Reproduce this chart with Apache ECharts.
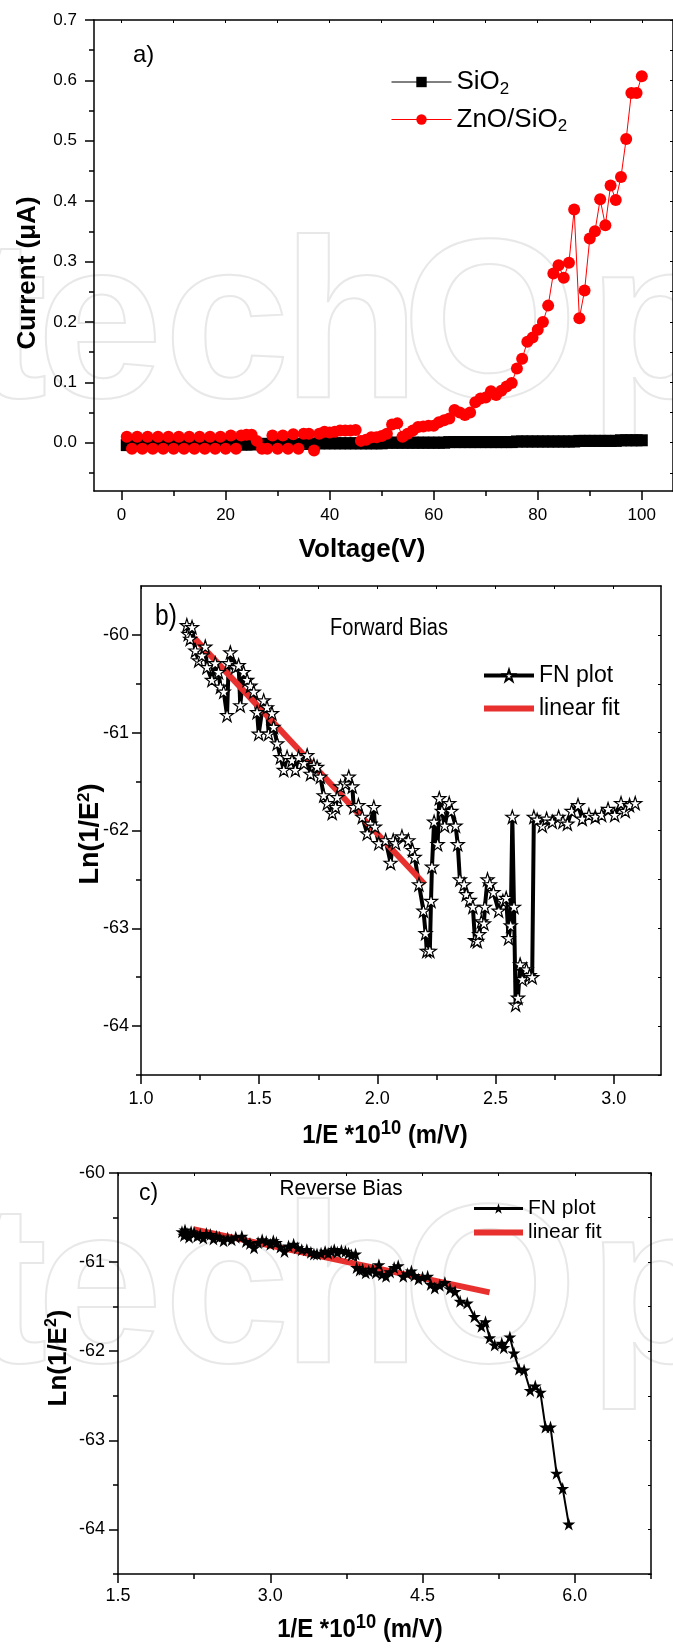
<!DOCTYPE html>
<html><head><meta charset="utf-8">
<script src="https://cdn.jsdelivr.net/npm/echarts@6/dist/echarts.min.js"></script>
<style>html,body{margin:0;padding:0;background:#fff}#c{width:673px;height:1651px}</style>
</head><body><div id="c"></div>
<script>
// ---------- Panel a data ----------
const voltage = [1,2,3,4,5,6,7,8,9,10,11,12,13,14,15,16,17,18,19,20,21,22,23,24,25,26,27,28,29,30,31,32,33,34,35,36,37,38,39,40,41,42,43,44,45,46,47,48,49,50,51,52,53,54,55,56,57,58,59,60,61,62,63,64,65,66,67,68,69,70,71,72,73,74,75,76,77,78,79,80,81,82,83,84,85,86,87,88,89,90,91,92,93,94,95,96,97,98,99,100];
const currentSiO2 = [-0.004,-0.004,-0.004,-0.004,-0.004,-0.004,-0.004,-0.004,-0.004,-0.004,-0.004,-0.004,-0.003,-0.003,-0.003,-0.003,-0.003,-0.003,-0.003,-0.003,-0.003,-0.003,-0.003,-0.003,-0.003,-0.002,-0.002,-0.002,-0.002,-0.002,-0.002,-0.002,-0.002,-0.002,-0.002,-0.002,-0.002,-0.001,-0.001,-0.001,-0.001,-0.001,-0.001,-0.001,-0.001,-0.001,-0.001,-0.001,-0.001,-0.001,0,0,0,0,0,0,0,0,0,0,0,0,0.001,0.001,0.001,0.001,0.001,0.001,0.001,0.001,0.001,0.001,0.001,0.001,0.001,0.002,0.002,0.002,0.002,0.002,0.002,0.002,0.002,0.002,0.002,0.002,0.002,0.003,0.003,0.003,0.003,0.003,0.003,0.003,0.003,0.004,0.004,0.004,0.004,0.004];
const currentZnO = [0.01,-0.01,0.01,-0.01,0.01,-0.01,0.01,-0.01,0.01,-0.01,0.01,-0.01,0.01,-0.01,0.01,-0.01,0.01,-0.01,0.01,-0.01,0.012,-0.01,0.012,0.013,0.013,0.003,-0.01,-0.01,0.012,-0.01,0.012,-0.01,0.014,-0.01,0.015,0.015,-0.013,0.015,0.018,0.017,0.018,0.02,0.02,0.02,0.021,0.003,0.005,0.009,0.009,0.011,0.015,0.03,0.032,0.01,0.015,0.02,0.026,0.027,0.028,0.028,0.034,0.037,0.04,0.054,0.05,0.046,0.05,0.067,0.073,0.075,0.085,0.079,0.086,0.093,0.099,0.123,0.139,0.167,0.174,0.187,0.2,0.227,0.28,0.294,0.273,0.298,0.386,0.206,0.252,0.338,0.35,0.403,0.36,0.426,0.402,0.44,0.503,0.579,0.579,0.607];
const ticksA_x = [0,20,40,60,80,100];
const minorA_x = [10,30,50,70,90];
const ticksA_y = [0,0.1,0.2,0.3,0.4,0.5,0.6,0.7];
const minorA_y = [-0.05,0.05,0.15,0.25,0.35,0.45,0.55,0.65];

// ---------- Panel b data (forward bias) ----------
const fnbX = [1.194,1.200,1.208,1.216,1.230,1.244,1.258,1.272,1.279,1.300,1.314,1.328,1.336,1.350,1.364,1.371,1.378,1.400,1.413,1.420,1.434,1.449,1.463,1.477,1.491,1.498,1.519,1.533,1.540,1.554,1.561,1.576,1.590,1.604,1.618,1.639,1.653,1.667,1.689,1.703,1.717,1.731,1.745,1.759,1.773,1.788,1.809,1.823,1.830,1.844,1.865,1.879,1.894,1.900,1.920,1.936,1.957,1.971,1.985,1.990,2.006,2.035,2.056,2.067,2.077,2.104,2.131,2.149,2.158,2.176,2.195,2.204,2.209,2.222,2.227,2.231,2.240,2.255,2.262,2.273,2.285,2.304,2.313,2.331,2.340,2.349,2.367,2.376,2.391,2.404,2.413,2.423,2.431,2.440,2.451,2.455,2.466,2.476,2.491,2.513,2.531,2.545,2.555,2.564,2.571,2.578,2.585,2.595,2.604,2.613,2.631,2.644,2.655,2.662,2.676,2.698,2.716,2.740,2.767,2.785,2.804,2.822,2.849,2.867,2.895,2.922,2.949,2.976,3.004,3.031,3.049,3.067,3.091];
const fnbY = [-59.90,-59.99,-60.04,-59.92,-60.16,-60.26,-60.21,-60.12,-60.33,-60.46,-60.29,-60.38,-60.53,-60.58,-60.82,-60.29,-60.18,-60.33,-60.31,-60.72,-60.38,-60.46,-60.52,-60.58,-60.79,-61.01,-60.67,-60.74,-61.01,-60.80,-60.94,-61.11,-61.25,-61.38,-61.25,-61.28,-61.38,-61.25,-61.31,-61.23,-61.42,-61.33,-61.35,-61.45,-61.64,-61.72,-61.82,-61.76,-61.66,-61.55,-61.52,-61.45,-61.55,-61.76,-61.74,-61.86,-62.03,-61.93,-61.76,-61.96,-62.13,-62.10,-62.33,-62.10,-62.13,-62.06,-62.10,-62.20,-62.27,-62.55,-62.82,-63.05,-63.23,-63.23,-62.72,-62.37,-61.91,-62.14,-61.67,-61.80,-61.95,-61.72,-61.80,-61.95,-62.14,-62.50,-62.55,-62.65,-62.71,-62.78,-63.12,-63.13,-63.06,-62.93,-62.95,-62.78,-62.50,-62.55,-62.63,-62.82,-62.72,-62.69,-63.10,-62.97,-61.86,-62.78,-63.78,-63.71,-63.37,-63.52,-63.42,-63.48,-63.50,-61.86,-61.89,-61.95,-61.88,-61.91,-61.86,-61.91,-61.93,-61.80,-61.74,-61.88,-61.84,-61.86,-61.84,-61.78,-61.84,-61.72,-61.80,-61.74,-61.72];
const fitbX = [1.225, 2.20];
const fitbY = [-60.03, -62.55];
const ticksB_x = [1.0,1.5,2.0,2.5,3.0];
const minorB_x = [1.25,1.75,2.25,2.75];
const ticksB_y = [-64,-63,-62,-61,-60];
const minorB_y = [-64.5,-63.5,-62.5,-61.5,-60.5];

// ---------- Panel c data (reverse bias) ----------
const fncX = [2.13,2.15,2.16,2.18,2.20,2.22,2.25,2.28,2.31,2.34,2.37,2.41,2.44,2.47,2.50,2.54,2.58,2.62,2.66,2.72,2.76,2.80,2.84,2.88,2.92,2.96,3.00,3.03,3.06,3.10,3.14,3.18,3.23,3.27,3.31,3.36,3.40,3.43,3.46,3.50,3.54,3.57,3.60,3.63,3.66,3.70,3.74,3.77,3.80,3.84,3.85,3.88,3.91,3.94,3.97,4.01,4.04,4.07,4.10,4.14,4.18,4.22,4.26,4.31,4.35,4.39,4.42,4.46,4.50,4.55,4.58,4.62,4.67,4.72,4.77,4.82,4.87,4.94,5.01,5.08,5.12,5.16,5.21,5.28,5.30,5.36,5.40,5.45,5.50,5.56,5.61,5.66,5.71,5.76,5.82,5.88,5.94];
const fncY = [-60.66,-60.70,-60.64,-60.68,-60.72,-60.66,-60.67,-60.71,-60.69,-60.73,-60.68,-60.69,-60.74,-60.71,-60.72,-60.76,-60.73,-60.75,-60.72,-60.71,-60.77,-60.79,-60.84,-60.78,-60.75,-60.77,-60.80,-60.76,-60.78,-60.83,-60.88,-60.82,-60.80,-60.84,-60.86,-60.86,-60.89,-60.91,-60.91,-60.90,-60.88,-60.90,-60.88,-60.86,-60.89,-60.87,-60.88,-60.90,-60.92,-60.91,-61.06,-61.09,-61.08,-61.12,-61.10,-61.08,-61.12,-61.03,-61.14,-61.16,-61.11,-61.06,-61.04,-61.16,-61.13,-61.10,-61.15,-61.19,-61.17,-61.16,-61.25,-61.29,-61.26,-61.23,-61.30,-61.33,-61.44,-61.46,-61.61,-61.72,-61.67,-61.85,-61.93,-61.91,-61.96,-61.84,-62.02,-62.20,-62.21,-62.44,-62.39,-62.46,-62.85,-62.85,-63.37,-63.54,-63.94];
const fitcX = [2.24, 5.16];
const fitcY = [-60.63, -61.34];
const ticksC_x = [1.5,3.0,4.5,6.0];
const minorC_x = [2.25,3.75,5.25,6.75];
const ticksC_y = [-64,-63,-62,-61,-60];
const minorC_y = [-64.5,-63.5,-62.5,-61.5,-60.5];

// ---------- helpers ----------
const SANS = "'Liberation Sans', Arial, sans-serif";
const STAR = 'path://M50,0 L61.2,34.5 L97.6,34.5 L68.2,55.9 L79.4,90.5 L50,69.1 L20.6,90.5 L31.8,55.9 L2.4,34.5 L38.8,34.5 Z';
const pairs = (xs, ys) => xs.map((x, i) => [x, ys[i]]);
const ax = () => ({color: '#000', width: 1.5});

function xAxes(grid, min, max, majors, minors, fmt, size, margin) {
  return [
    {gridIndex: grid, type: 'value', min, max, position: 'bottom',
     axisLine: {show: true, onZero: false, lineStyle: ax()},
     axisTick: {show: true, inside: false, length: 9, customValues: majors, lineStyle: ax()},
     axisLabel: {show: true, customValues: majors, formatter: fmt, margin, color: '#000', fontFamily: SANS, fontSize: size},
     splitLine: {show: false}},
    {gridIndex: grid, type: 'value', min, max, position: 'bottom',
     axisLine: {show: false, onZero: false}, axisTick: {show: true, inside: false, length: 5, customValues: minors, lineStyle: ax()},
     axisLabel: {show: false}, splitLine: {show: false}},
    {gridIndex: grid, type: 'value', min, max, position: 'top',
     axisLine: {show: true, onZero: false, lineStyle: ax()},
     axisTick: {show: true, inside: true, length: 3, customValues: majors.concat(minors), lineStyle: {color: '#000', width: 1}},
     axisLabel: {show: false}, splitLine: {show: false}}
  ];
}
function yAxes(grid, min, max, majors, minors, fmt, size, margin) {
  return [
    {gridIndex: grid, type: 'value', min, max, position: 'left',
     axisLine: {show: true, onZero: false, lineStyle: ax()},
     axisTick: {show: true, inside: false, length: 9, customValues: majors, lineStyle: ax()},
     axisLabel: {show: true, customValues: majors, formatter: fmt, margin, color: '#000', fontFamily: SANS, fontSize: size},
     splitLine: {show: false}},
    {gridIndex: grid, type: 'value', min, max, position: 'left',
     axisLine: {show: false, onZero: false}, axisTick: {show: true, inside: false, length: 5, customValues: minors, lineStyle: ax()},
     axisLabel: {show: false}, splitLine: {show: false}},
    {gridIndex: grid, type: 'value', min, max, position: 'right',
     axisLine: {show: true, onZero: false, lineStyle: ax()},
     axisTick: {show: true, inside: true, length: 3, customValues: majors.concat(minors), lineStyle: {color: '#000', width: 1}},
     axisLabel: {show: false}, splitLine: {show: false}}
  ];
}

const xAxis = [].concat(
  xAxes(0, -5.3, 106, ticksA_x, minorA_x, v => String(v), 17, 16),
  xAxes(1, 1.0, 3.2, ticksB_x, minorB_x, v => v.toFixed(1), 18, 15),
  xAxes(2, 1.5, 6.75, ticksC_x, minorC_x, v => v.toFixed(1), 18, 13)
);
const yAxis = [].concat(
  yAxes(0, -0.08, 0.7, ticksA_y, minorA_y, v => v.toFixed(1), 17, 17),
  yAxes(1, -64.5, -59.5, ticksB_y, minorB_y, v => String(v), 18, 12),
  yAxes(2, -64.5, -60, ticksC_y, minorC_y, v => String(v), 18, 13)
);

const FIT_RED = '#e8302e';
const series = [
  {name: 'SiO2', type: 'line', xAxisIndex: 0, yAxisIndex: 0, data: pairs(voltage, currentSiO2),
   symbol: 'rect', symbolSize: 12, itemStyle: {color: '#000'}, lineStyle: {color: '#000', width: 1}},
  {name: 'ZnO/SiO2', type: 'line', xAxisIndex: 0, yAxisIndex: 0, data: pairs(voltage, currentZnO),
   symbol: 'circle', symbolSize: 12, itemStyle: {color: '#ff0000'}, lineStyle: {color: '#ff0000', width: 1}},
  {name: 'FN plot b', type: 'line', xAxisIndex: 3, yAxisIndex: 3, data: pairs(fnbX, fnbY),
   symbol: STAR, symbolSize: 13, itemStyle: {color: '#fff', borderColor: '#000', borderWidth: 1.2},
   lineStyle: {color: '#000', width: 4}},
  {name: 'linear fit b', type: 'line', xAxisIndex: 3, yAxisIndex: 3, data: pairs(fitbX, fitbY),
   symbol: 'none', lineStyle: {color: FIT_RED, width: 6}, itemStyle: {color: FIT_RED}},
  {name: 'FN plot c', type: 'line', xAxisIndex: 6, yAxisIndex: 6, data: pairs(fncX, fncY),
   symbol: STAR, symbolSize: 13, itemStyle: {color: '#000'}, lineStyle: {color: '#000', width: 2}},
  {name: 'linear fit c', type: 'line', xAxisIndex: 6, yAxisIndex: 6, data: pairs(fitcX, fitcY),
   symbol: 'none', lineStyle: {color: FIT_RED, width: 6}, itemStyle: {color: FIT_RED}}
];

const legendNames = {'SiO2': '{n|SiO}{s|2}', 'ZnO/SiO2': '{n|ZnO/SiO}{s|2}',
  'FN plot b': 'FN plot', 'linear fit b': 'linear fit', 'FN plot c': 'FN plot', 'linear fit c': 'linear fit'};
const hideSym = {opacity: 0};

const legend = [
  {data: [{name: 'SiO2', lineStyle: {width: 1}}, {name: 'ZnO/SiO2', lineStyle: {width: 1}}],
   left: 386, top: 64, orient: 'vertical', selectedMode: false,
   itemWidth: 60, itemHeight: 13, itemGap: 9, formatter: n => legendNames[n],
   textStyle: {color: '#000', fontFamily: SANS, fontSize: 26,
     rich: {n: {fontFamily: SANS, fontSize: 26, color: '#000'}, s: {fontFamily: SANS, fontSize: 17, color: '#000', padding: [14, 0, 0, 0]}}}},
  {data: [{name: 'FN plot b', lineStyle: {width: 4}}, {name: 'linear fit b', lineStyle: {width: 6}, itemStyle: hideSym}],
   left: 476, top: 659, orient: 'vertical', selectedMode: false,
   itemWidth: 50, itemHeight: 14, itemGap: 10, formatter: n => legendNames[n],
   textStyle: {color: '#000', fontFamily: SANS, fontSize: 23}},
  {data: [{name: 'FN plot c', lineStyle: {width: 3}}, {name: 'linear fit c', lineStyle: {width: 6}, itemStyle: hideSym}],
   left: 466, top: 1193, orient: 'vertical', selectedMode: false,
   itemWidth: 49, itemHeight: 13, itemGap: 3, formatter: n => legendNames[n],
   textStyle: {color: '#000', fontFamily: SANS, fontSize: 21}}
];

function txt(x, y, text, size, opts) {
  opts = opts || {};
  return {type: 'text', x, y, rotation: opts.rot || 0, scaleX: opts.sx || 1, z: 10,
    style: {text, fill: '#000', fontFamily: SANS, fontSize: size, fontWeight: opts.bold ? 'bold' : 'normal',
      textAlign: opts.align || 'center', textVerticalAlign: 'middle', rich: opts.rich}};
}
const supRich = (big, small, pad) => ({
  m: {fontFamily: SANS, fontSize: big, fontWeight: 'bold', fill: '#000', color: '#000'},
  s: {fontFamily: SANS, fontSize: small, fontWeight: 'bold', fill: '#000', color: '#000', padding: [0, 0, pad, 0]}
});
// faint publisher watermark (background decoration)
const markLetters = ['t', 'e', 'c', 'h', 'O', 'p'];
const markX = [-28, 37, 164, 282, 402, 588];
function mark(y) {
  return markLetters.map((ch, i) => ({type: 'text', x: markX[i], y, z: -10, silent: true,
    style: {text: ch, fontFamily: SANS, fontWeight: 'bold', fontSize: 226, fill: 'none', stroke: '#e8e8e8', lineWidth: 2,
      textAlign: 'left', textVerticalAlign: 'middle'}}));
}

const graphic = [].concat(mark(335), mark(1300), [
  txt(133, 55, 'a)', 24, {align: 'left'}),
  txt(362, 550, 'Voltage(V)', 26, {bold: true}),
  txt(28, 273, 'Current (μA)', 26, {bold: true, rot: Math.PI / 2}),

  txt(155, 617, 'b)', 29, {align: 'left', sx: 0.85}),
  txt(389, 629, 'Forward Bias', 23, {sx: 0.87}),
  txt(385, 1136, '{m|1/E *10}{s|10}{m| (m/V)}', 26, {sx: 0.92, rich: supRich(26, 20, 16)}),
  txt(91, 834, '{m|Ln(1/E}{s|2}{m|)}', 27, {rot: Math.PI / 2, rich: supRich(27, 17, 14)}),

  txt(139, 1194, 'c)', 23, {align: 'left'}),
  txt(341, 1189, 'Reverse Bias', 22, {sx: 0.94}),
  txt(360, 1630, '{m|1/E *10}{s|10}{m| (m/V)}', 26, {sx: 0.92, rich: supRich(26, 20, 16)}),
  txt(59, 1358, '{m|Ln(1/E}{s|2}{m|)}', 26, {rot: Math.PI / 2, rich: supRich(26, 16, 14)})
]);

const chart = echarts.init(document.getElementById('c'), null, {renderer: 'canvas'});
chart.setOption({
  animation: false,
  backgroundColor: '#fff',
  grid: [
    {left: 94, top: 20, width: 589, height: 471},
    {left: 141, top: 586, width: 520, height: 489},
    {left: 118, top: 1173, width: 533, height: 401}
  ],
  xAxis, yAxis, series, legend, graphic
});
</script></body></html>
